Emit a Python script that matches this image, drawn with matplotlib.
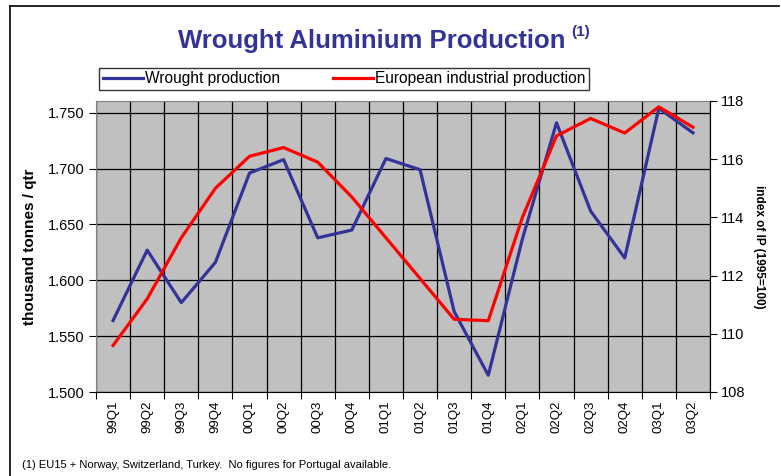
import matplotlib
matplotlib.use("Agg")
import matplotlib.pyplot as plt
from matplotlib.lines import Line2D
import numpy as np

plt.rcParams['font.family'] = ['Liberation Sans', 'DejaVu Sans']

quarters = ["99Q1", "99Q2", "99Q3", "99Q4", "00Q1", "00Q2", "00Q3", "00Q4",
            "01Q1", "01Q2", "01Q3", "01Q4", "02Q1", "02Q2", "02Q3", "02Q4",
            "03Q1", "03Q2"]
wrought = [1.564, 1.627, 1.580, 1.616, 1.696, 1.708, 1.638, 1.645,
           1.709, 1.699, 1.572, 1.515, 1.637, 1.741, 1.662, 1.620,
           1.754, 1.732]
ip_index = [109.6, 111.2, 113.3, 115.0, 116.1, 116.4, 115.9, 114.7,
            113.3, 111.9, 110.5, 110.45, 114.0, 116.8, 117.4, 116.9,
            117.8, 117.1]
left_ticks = [1.500, 1.550, 1.600, 1.650, 1.700, 1.750]
right_ticks = [108, 110, 112, 114, 116, 118]

W, H = 781, 476
fig = plt.figure(figsize=(W / 100, H / 100), dpi=100)

# outer frame (top and left edges visible)
fig.add_artist(Line2D([10 / W, 10 / W], [0, 1 - 6 / H], transform=fig.transFigure, color='black', lw=1.2))
fig.add_artist(Line2D([10 / W, 779 / W], [1 - 6 / H, 1 - 6 / H], transform=fig.transFigure, color='black', lw=1.2))

ax = fig.add_axes([96 / W, 1 - 392 / H, (710 - 96) / W, (392 - 101) / H])
ax.set_facecolor('#C0C0C0')
x = np.arange(len(quarters))

ax.set_xlim(-0.5, len(quarters) - 0.5)
ax.set_ylim(1.5, 1.7605)
ax.set_yticks(left_ticks)
ax.set_yticklabels([f"{v:.3f}" for v in left_ticks], fontsize=10.5)
ax.set_xticks(np.arange(-0.5, len(quarters), 1.0))
ax.set_xticklabels([])
ax.set_xticks(x, minor=True)
ax.set_xticklabels(quarters, minor=True, rotation=90, fontsize=9.5)
ax.tick_params(axis='x', which='minor', length=0, pad=6)
ax.tick_params(axis='x', which='major', length=5, direction='out', color='black')
ax.tick_params(axis='y', length=5, direction='out', pad=3)
ax.grid(True, which='major', color='black', lw=0.9)
ax.set_axisbelow(True)
for s in ax.spines.values():
    s.set_color('#808080')
ax.spines['bottom'].set_color('black')

l1, = ax.plot(x, wrought, color='#333399', lw=2.3, zorder=3)
ax.set_ylabel("thousand tonnes / qtr", fontsize=11, fontweight='bold', labelpad=8)

ax2 = ax.twinx()
ax2.set_ylim(108, 118)
ax2.set_yticks(right_ticks)
ax2.set_yticklabels([str(v) for v in right_ticks], fontsize=10.5)
ax2.tick_params(axis='y', length=5, direction='out', pad=3)
l2, = ax2.plot(x, ip_index, color='#FF0000', lw=2.3, zorder=3)
ax2.set_ylabel("index of IP (1995=100)", fontsize=8.5, fontweight='bold', rotation=270, labelpad=14)
for s in ax2.spines.values():
    s.set_visible(False)
ax2.spines['right'].set_visible(True)
ax2.spines['right'].set_color('black')

fig.text(372 / W, 1 - 41 / H, "Wrought Aluminium Production",
         ha='center', va='center', fontsize=18.5, fontweight='bold', color='#333399')
fig.text(571 / W, 1 - 32 / H, "(1)",
         ha='left', va='center', fontsize=11, fontweight='bold', color='#333399')

leg = fig.legend([l1, l2], ["Wrought production", "European industrial production"],
                 loc='center', bbox_to_anchor=((95 + 593) / 2 / W, 1 - 79 / H),
                 ncol=2, frameon=True, fancybox=False, fontsize=11.2,
                 handlelength=2.6, handletextpad=0.1, columnspacing=3.4,
                 borderpad=0.25, edgecolor='black')
leg.get_frame().set_linewidth(1.0)

fig.text(22 / W, 1 - 465 / H, "(1) EU15 + Norway, Switzerland, Turkey.  No figures for Portugal available.",
         ha='left', va='center', fontsize=8)

fig.savefig("out.png", dpi=100)
